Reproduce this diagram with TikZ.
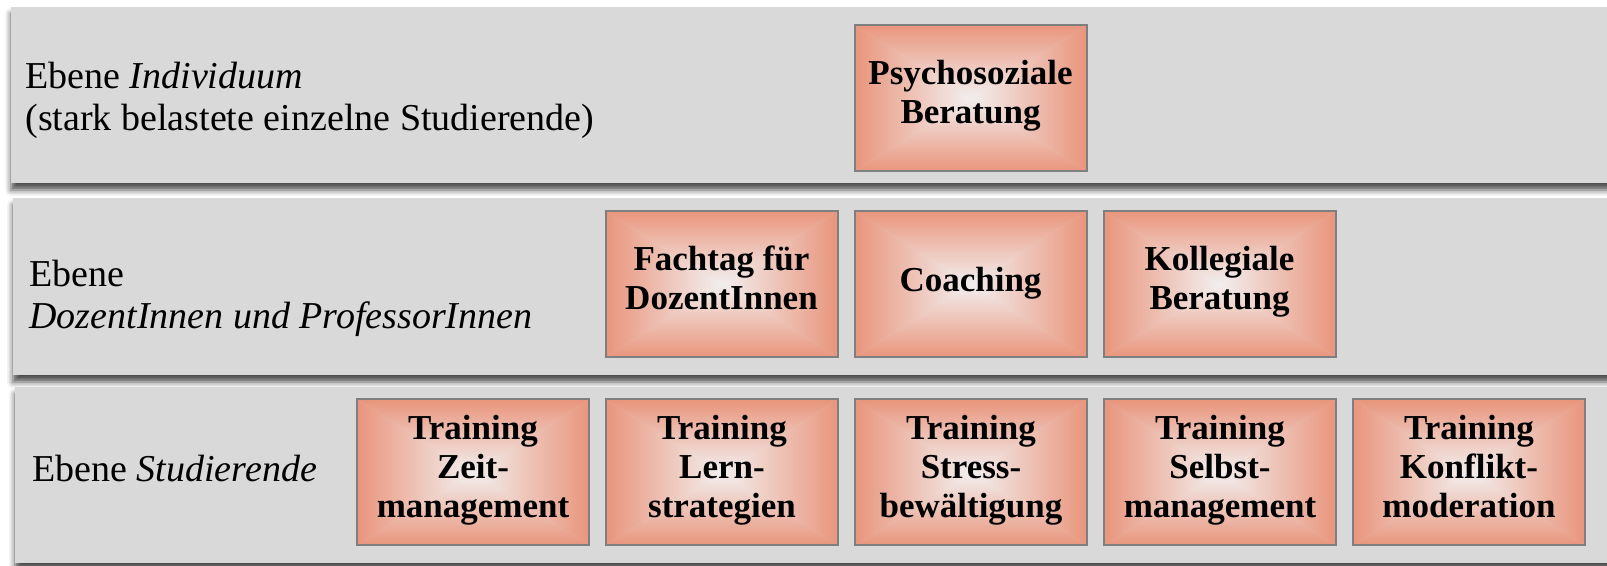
\documentclass[tikz,border=0pt]{standalone}
\usepackage{fontspec}
\setmainfont{Liberation Serif}
\usetikzlibrary{positioning,shadows.blur}
\definecolor{bandgrey}{HTML}{D9D9D9}
\definecolor{boxline}{HTML}{7F7F7F}
\definecolor{salmonedge}{HTML}{E9957C}
\definecolor{salmoncore}{HTML}{F2EFEF}
\newcommand{\levelfont}{\fontsize{19}{21}\selectfont}
\newcommand{\offerfont}{\fontsize{17.5}{19.5}\selectfont\bfseries}

\begin{document}
\begin{tikzpicture}[x=0.5pt, y=-0.5pt, node distance=7.5pt,
    band/.style={fill=bandgrey, draw=none,
                 blur shadow={shadow xshift=0pt, shadow yshift=-3.5pt, shadow blur radius=3pt, shadow opacity=70}},
    leveltext/.style={inner sep=0pt, align=left, font=\levelfont},
    % fill runs from the edges towards the centre (four shaded triangles)
    offer/.style={draw=boxline, line width=1pt, minimum width=116pt, minimum height=73pt,
                  inner sep=2pt, align=center, font=\offerfont, execute at end node={\strut},
                  path picture={
                    \coordinate (m) at (path picture bounding box.center);
                    \shade[top color=salmonedge, middle color=salmonedge!65!salmoncore, bottom color=salmoncore]
                      (path picture bounding box.north west) -- (path picture bounding box.north east) -- (m) -- cycle;
                    \shade[bottom color=salmonedge, middle color=salmonedge!65!salmoncore, top color=salmoncore]
                      (path picture bounding box.south west) -- (path picture bounding box.south east) -- (m) -- cycle;
                    \shade[left color=salmonedge, middle color=salmonedge!65!salmoncore, right color=salmoncore]
                      (path picture bounding box.north west) -- (path picture bounding box.south west) -- (m) -- cycle;
                    \shade[right color=salmonedge, middle color=salmonedge!65!salmoncore, left color=salmoncore]
                      (path picture bounding box.north east) -- (path picture bounding box.south east) -- (m) -- cycle;
                  }}]
  \useasboundingbox (0,0) rectangle (1607,566);

  % the three levels
  \path[band] (11,7) rectangle (1630,183);
  \path[band] (13,198) rectangle (1630,375);
  \path[band] (15,387) rectangle (1630,563);

  \node[leveltext, anchor=west] (ind) at (25,100.5) {Ebene \textit{Individuum}\\(stark belastete einzelne Studierende)};
  \node[leveltext, anchor=west] (doz) at (29,298.5) {Ebene\\\textit{DozentInnen und ProfessorInnen}};
  \node[leveltext, anchor=base west] (stud) at (32,482) {Ebene \textit{Studierende}};

  % offers per level
  \node[offer] (psych) at (970.5,98) {Psychosoziale\\Beratung};

  \node[offer] (coach) at (970.5,284) {Coaching};
  \node[offer, left=of coach] (fach) {Fachtag für\\DozentInnen};
  \node[offer, right=of coach] (koll) {Kollegiale\\Beratung};

  \node[offer] (stress) at (971,472.5) {Training\\Stress-\\bewältigung};
  \node[offer, left=of stress] (lern) {Training\\Lern-\\strategien};
  \node[offer, left=of lern] (zeit) {Training\\Zeit-\\management};
  \node[offer, right=of stress] (selbst) {Training\\Selbst-\\management};
  \node[offer, right=of selbst] (konflikt) {Training\\Konflikt-\\moderation};
\end{tikzpicture}
\end{document}
